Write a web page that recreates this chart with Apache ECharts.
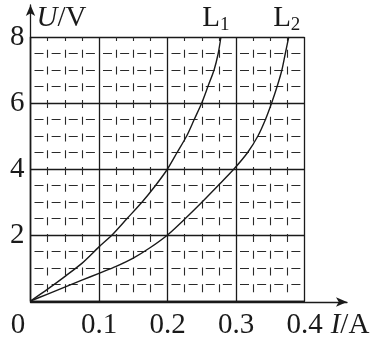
<!DOCTYPE html>
<html>
<head>
<meta charset="utf-8">
<script src="https://cdn.jsdelivr.net/npm/echarts@6/dist/echarts.min.js"></script>
<style>html,body{margin:0;padding:0;background:#fff}#c{width:378px;height:340px}</style>
</head>
<body>
<div id="c"></div>
<script>
// Data (I in A, U in V)
var l1Current = [0, 0.025, 0.05, 0.075, 0.1, 0.119, 0.141, 0.163, 0.1825, 0.2, 0.214, 0.228, 0.239, 0.25, 0.259, 0.268, 0.274, 0.278];
var l1Voltage = [0, 0.36, 0.74, 1.14, 1.64, 2, 2.5, 3, 3.5, 4, 4.5, 5, 5.5, 6, 6.5, 7, 7.5, 8];
var l2Current = [0, 0.025, 0.05, 0.075, 0.1, 0.125, 0.15, 0.175, 0.2, 0.226, 0.2505, 0.274, 0.297, 0.317, 0.332, 0.343, 0.352, 0.36, 0.367, 0.372, 0.377];
var l2Voltage = [0, 0.21, 0.42, 0.63, 0.84, 1.05, 1.3, 1.62, 2, 2.5, 3, 3.5, 4, 4.5, 5, 5.5, 6, 6.5, 7, 7.5, 8];
var xTickLabels = ['0', '0.1', '0.2', '0.3', '0.4'];
var yTickLabels = ['', '2', '4', '6', '8'];
var seriesNames = ['L1', 'L2'];

function pairs(xs, ys) { return xs.map(function (x, i) { return [x, ys[i]]; }); }

var FONT = 'Liberation Serif';
var ink = '#1a1a1a';
var chart = echarts.init(document.getElementById('c'), null, { renderer: 'canvas' });

function seriesLabel(sub, dx) {
  return {
    show: true,
    formatter: '{a|L}{b|' + sub + '}',
    align: 'center', verticalAlign: 'bottom',
    offset: [dx, -2],
    rich: {
      a: { fontFamily: FONT, fontSize: 29, color: ink, lineHeight: 30, padding: [0, 0, 4, 0] },
      b: { fontFamily: FONT, fontSize: 19, color: ink, lineHeight: 30, padding: [10, 0, 0, 0] }
    }
  };
}

chart.setOption({
  animation: false,
  backgroundColor: '#fff',
  grid: [
    { left: 30.5, right: 73.5, top: 37, bottom: 35 },
    { left: 30.5, right: 31, top: 5, bottom: 35 }
  ],
  xAxis: [
    {
      type: 'value', gridIndex: 0, min: 0, max: 0.4, interval: 0.1,
      axisLine: { show: true, onZero: false, lineStyle: { color: ink, width: 1.3 } },
      axisTick: { show: false },
      minorTick: { show: false, splitNumber: 4 },
      axisLabel: {
        margin: 10, color: ink, fontFamily: FONT, fontSize: 29,
        formatter: function (v) {
          var i = Math.round(v * 10);
          return i === 0 ? '{z|' + xTickLabels[0] + '}' : xTickLabels[i];
        },
        rich: { z: { fontFamily: FONT, fontSize: 29, color: ink, padding: [0, 25, 0, 0] } }
      },
      splitLine: { show: true, lineStyle: { color: ink, width: 1.3 } },
      minorSplitLine: { show: true, lineStyle: { color: '#2a2a2a', width: 1.1, type: [8, 8.75], dashOffset: 4 } }
    },
    {
      type: 'value', gridIndex: 1, min: 0, max: 1,
      axisLine: { show: true, onZero: false, symbol: ['none', 'arrow'], symbolSize: [7, 11], lineStyle: { color: ink, width: 1.3 } },
      axisTick: { show: false }, axisLabel: { show: false }, splitLine: { show: false },
      name: '{i|I}/A', nameLocation: 'end', nameGap: 3,
      nameTextStyle: {
        fontFamily: FONT, fontSize: 29, color: ink, align: 'center', verticalAlign: 'top', padding: [9, 0, 0, 0],
        rich: { i: { fontFamily: FONT, fontSize: 29, fontStyle: 'italic', color: ink } }
      }
    }
  ],
  yAxis: [
    {
      type: 'value', gridIndex: 0, min: 0, max: 8, interval: 2,
      axisLine: { show: true, onZero: false, lineStyle: { color: ink, width: 1.3 } },
      axisTick: { show: false },
      minorTick: { show: false, splitNumber: 4 },
      axisLabel: {
        margin: 6, color: ink, fontFamily: FONT, fontSize: 29, padding: [8, 0, 0, 0],
        formatter: function (v) { return yTickLabels[Math.round(v / 2)]; }
      },
      splitLine: { show: true, lineStyle: { color: ink, width: 1.3 } },
      minorSplitLine: { show: true, lineStyle: { color: '#2a2a2a', width: 1.1, type: [9, 8.125], dashOffset: -4 } }
    },
    {
      type: 'value', gridIndex: 1, min: 0, max: 1,
      axisLine: { show: true, onZero: false, symbol: ['none', 'arrow'], symbolSize: [7, 11], lineStyle: { color: ink, width: 1.3 } },
      axisTick: { show: false }, axisLabel: { show: false }, splitLine: { show: false },
      name: '{i|U}/V', nameLocation: 'end', nameGap: -13,
      nameTextStyle: {
        fontFamily: FONT, fontSize: 29, color: ink, align: 'left', verticalAlign: 'middle', padding: [0, 0, 0, 6],
        rich: { i: { fontFamily: FONT, fontSize: 29, fontStyle: 'italic', color: ink } }
      }
    }
  ],
  series: [
    {
      name: seriesNames[0], type: 'line', xAxisIndex: 0, yAxisIndex: 0,
      data: pairs(l1Current, l1Voltage), smooth: 0.25, showSymbol: false,
      lineStyle: { color: ink, width: 1.4 },
      endLabel: seriesLabel('1', -13)
    },
    {
      name: seriesNames[1], type: 'line', xAxisIndex: 0, yAxisIndex: 0,
      data: pairs(l2Current, l2Voltage), smooth: 0.25, showSymbol: false,
      lineStyle: { color: ink, width: 1.4 },
      endLabel: seriesLabel('2', -10)
    }
  ]
});
</script>
</body>
</html>
